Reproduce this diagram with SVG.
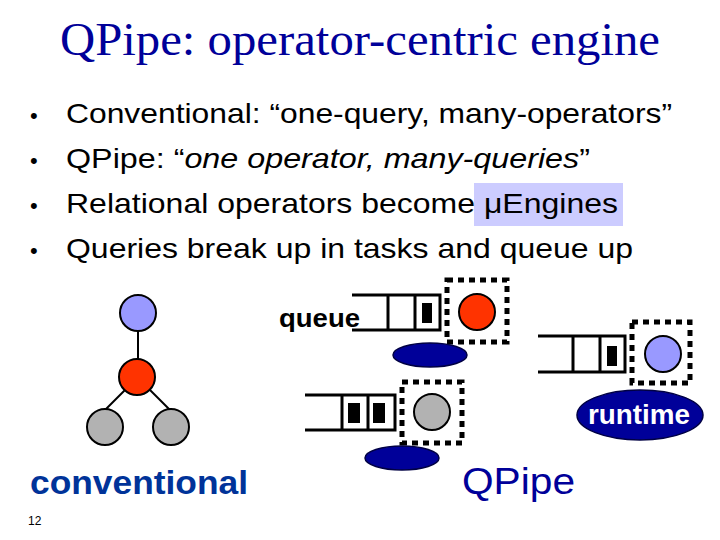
<svg xmlns="http://www.w3.org/2000/svg" width="720" height="540" viewBox="0 0 720 540">
<style>
.b{font-family:"Liberation Sans",Arial,sans-serif;font-size:28px;fill:#000}
.q{fill:none;stroke:#000;stroke-width:3}
.blk{fill:#000}
.dot{fill:none;stroke:#000;stroke-width:5;stroke-dasharray:6,5}
.c{stroke:#000;stroke-width:2}
.ell{fill:#000099;stroke:#000044;stroke-width:1.5}
</style>
<rect width="720" height="540" fill="#fff"/>
<text x="60" y="55" textLength="600" lengthAdjust="spacingAndGlyphs" font-family="'Liberation Serif',serif" font-size="46" fill="#000099">QPipe: operator-centric engine</text>
<rect x="474" y="183" width="149" height="43" fill="#ccccff"/>
<g class="b">
<text x="30" y="123" font-size="22">•</text><text x="66" y="123" textLength="606" lengthAdjust="spacingAndGlyphs">Conventional: “one-query, many-operators”</text>
<text x="30" y="168" font-size="22">•</text><text x="66" y="168" textLength="524" lengthAdjust="spacingAndGlyphs">QPipe: “<tspan font-style="italic">one operator, many-queries</tspan>”</text>
<text x="30" y="213" font-size="22">•</text><text x="66" y="213" textLength="552" lengthAdjust="spacingAndGlyphs">Relational operators become μEngines</text>
<text x="30" y="258" font-size="22">•</text><text x="66" y="258" textLength="567" lengthAdjust="spacingAndGlyphs">Queries break up in tasks and queue up</text>
</g>
<g id="connectors">
<line x1="138" y1="331" x2="138" y2="359" stroke="#000" stroke-width="2"/>
<line x1="125" y1="390" x2="105" y2="410" stroke="#000" stroke-width="2"/>
<line x1="150" y1="390" x2="170" y2="410" stroke="#000" stroke-width="2"/>
</g>
<g id="tree-top"><circle cx="138" cy="313" r="18" fill="#9999ff" class="c"/></g>
<g id="tree-mid"><circle cx="137" cy="377" r="18" fill="#ff3300" class="c"/></g>
<g id="tree-left"><circle cx="105" cy="427" r="18" fill="#b2b2b2" class="c"/></g>
<g id="tree-right"><circle cx="171" cy="427" r="18" fill="#b2b2b2" class="c"/></g>
<text x="30" y="494" textLength="218" lengthAdjust="spacingAndGlyphs" font-family="'Liberation Sans',Arial,sans-serif" font-size="34" font-weight="bold" fill="#003399">conventional</text>
<text x="28" y="525" font-family="'Liberation Sans',Arial,sans-serif" font-size="12">12</text>
<g id="engine1">
<path class="q" d="M352 295H440V330H352M388 295V330M415 295V330"/>
<rect class="blk" x="422" y="303" width="10" height="20"/>
<rect class="dot" x="447" y="280" width="60" height="62"/>
<circle cx="477" cy="312" r="18" fill="#ff3300" class="c"/>
<ellipse class="ell" cx="430" cy="355" rx="37" ry="12"/>
<text x="279" y="327" textLength="81" lengthAdjust="spacingAndGlyphs" font-family="'Liberation Sans',Arial,sans-serif" font-size="25" font-weight="bold">queue</text>
</g>
<g id="engine2">
<path class="q" d="M538 336H625V372H538M573 336V372M600 336V372"/>
<rect class="blk" x="607" y="346" width="10" height="20"/>
<rect class="dot" x="632" y="322" width="58" height="61"/>
<circle cx="663" cy="354" r="18" fill="#9999ff" class="c"/>
<ellipse class="ell" cx="640" cy="415" rx="63" ry="25"/>
<text x="588" y="424" textLength="102" lengthAdjust="spacingAndGlyphs" font-family="'Liberation Sans',Arial,sans-serif" font-size="27" font-weight="bold" fill="#fff">runtime</text>
</g>
<g id="engine3">
<path class="q" d="M305 395H395V430H305M342 395V430M368 395V430"/>
<rect class="blk" x="348" y="403" width="12" height="20"/>
<rect class="blk" x="373" y="403" width="12" height="20"/>
<rect class="dot" x="402" y="382" width="60" height="61"/>
<circle cx="432" cy="412" r="18" fill="#b2b2b2" class="c"/>
<ellipse class="ell" cx="402" cy="458" rx="37" ry="12"/>
</g>
<text x="462" y="494" textLength="113" lengthAdjust="spacingAndGlyphs" font-family="'Liberation Sans',Arial,sans-serif" font-size="37" fill="#000099">QPipe</text>
</svg>
